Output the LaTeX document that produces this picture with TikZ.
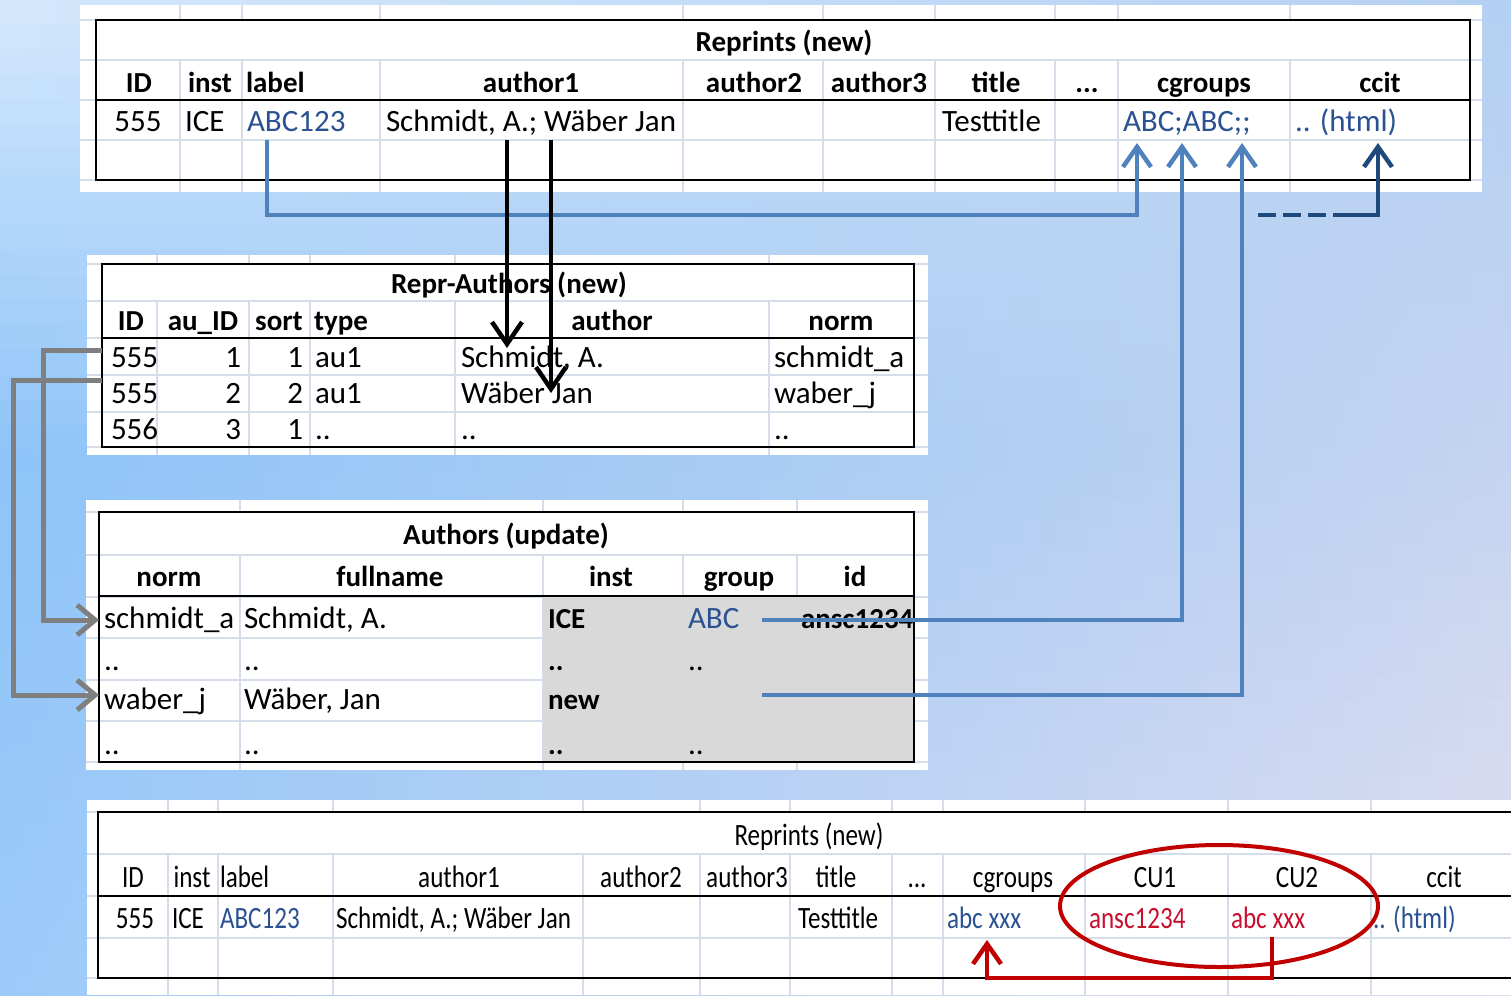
\documentclass[tikz,border=0pt]{standalone}
\usepackage{fontspec}
\setmainfont{Carlito}
\usepackage{graphicx}
\usetikzlibrary{arrows.meta}
\definecolor{TL}{HTML}{D4E8FC}
\definecolor{ML}{HTML}{8EC4F8}
\definecolor{BL}{HTML}{9CCAF8}
\definecolor{TR}{HTML}{B4D0F2}
\definecolor{MR}{HTML}{C4D4F0}
\definecolor{BR}{HTML}{E2DEF0}
\definecolor{gridc}{HTML}{D5DCEA}
\definecolor{txtblue}{HTML}{2A5191}
\definecolor{txtred}{HTML}{C8102E}
\definecolor{arrblue}{HTML}{4F81BD}
\definecolor{arrdark}{HTML}{1F497D}
\definecolor{arrgray}{HTML}{7F7F7F}
\definecolor{arrred}{HTML}{C00000}
\definecolor{cellgray}{HTML}{D9D9D9}
\newcommand{\cnd}[1]{\scalebox{0.81}[1]{#1}}
\begin{document}
\begin{tikzpicture}[x=1pt,y=-1pt,
  tx/.style={inner sep=0pt, outer sep=0pt, font=\fontsize{29}{34}\selectfont, anchor=base west},
  tc/.style={tx, anchor=base},
  te/.style={tx, anchor=base east},
  hb/.style={font=\fontsize{29}{34}\selectfont\bfseries},
  cf/.style={font=\fontsize{31}{36}\selectfont},
  blu/.style={text=txtblue},
  rtx/.style={text=txtred},
  gridline/.style={draw=gridc, line width=1.3pt},
  frame/.style={draw=black, line width=2.2pt},
  panel/.style={fill=white},
  barr/.style={draw=arrblue, line width=4.5pt, -{Straight Barb[length=20pt,width=28pt]}},
  darr/.style={draw=arrdark, line width=4.5pt, -{Straight Barb[length=20pt,width=28pt]}},
  karr/.style={draw=black, line width=4.5pt, -{Straight Barb[length=22pt,width=30pt]}},
  garr/.style={draw=arrgray, line width=5pt, -{Straight Barb[length=18pt,width=30pt]}},
  rarr/.style={draw=arrred, line width=4.5pt, -{Straight Barb[length=20pt,width=28pt]}}
]
\useasboundingbox (0,0) rectangle (1511,995);
% background
\foreach \i in {0,...,39} {
  \pgfmathtruncatemacro{\yy}{\i*25+12}
  \ifnum\yy<450
    \pgfmathtruncatemacro{\p}{\yy/4.5}
    \colorlet{cl}{ML!\p!TL}\colorlet{cr}{MR!\p!TR}
  \else
    \pgfmathtruncatemacro{\p}{(\yy-450)/5.45}
    \colorlet{cl}{BL!\p!ML}\colorlet{cr}{BR!\p!MR}
  \fi
  \shade[left color=cl, right color=cr] (0,\i*25) rectangle (1511,\i*25+26);
}

% ---------- Table 1: Reprints (new) top ----------
\fill[panel] (80,5) rectangle (1482,192);
\foreach \x in {180,242,380,683,823,935,1055,1118,1290} {
  \draw[gridline] (\x,5) -- (\x,20);
  \draw[gridline] (\x,60) -- (\x,192);
}
\foreach \y in {20,60,100,140,180} \draw[gridline] (80,\y) -- (1482,\y);
\draw[frame] (96,20) rectangle (1470,180);
\draw[frame] (96,100) -- (1470,100);
\node[tc,hb] (r1t) at (784,52) {Reprints (new)};
\node[tc,hb] (r1h1) at (139,93) {ID};
\node[tc,hb] (r1h2) at (210,93) {inst};
\node[tx,hb] (r1h3) at (246,93) {label};
\node[tc,hb] (r1h4) at (531,93) {author1};
\node[tc,hb] (r1h5) at (754,93) {author2};
\node[tc,hb] (r1h6) at (879,93) {author3};
\node[tc,hb] (r1h7) at (996,93) {title};
\node[tc,hb] (r1h8) at (1087,93) {...};
\node[tc,hb] (r1h9) at (1204,93) {cgroups};
\node[tc,hb] (r1h10) at (1380,93) {ccit};
\node[tc,cf] (r1d1) at (138,132) {555};
\node[tx,cf] (r1d2) at (185,132) {ICE};
\node[tx,cf,blu] (r1d3) at (247,132) {ABC123};
\node[tx,cf] (r1d4) at (386,132) {Schmidt, A.; Wäber Jan};
\node[tx,cf] (r1d5) at (942,132) {Testtitle};
\node[tx,cf,blu] (r1d6) at (1123,132) {ABC;ABC;;};
\node[tx,cf,blu] (r1d7) at (1295,132) {.. (html)};

% ---------- Table 2: Repr-Authors (new) ----------
\fill[panel] (87,255) rectangle (928,455);
\foreach \x in {157,249,310,455,769} {
  \draw[gridline] (\x,255) -- (\x,264);
  \draw[gridline] (\x,301) -- (\x,455);
}
\foreach \y in {264,301,338,375,412,447} \draw[gridline] (87,\y) -- (928,\y);
\draw[frame] (102,264) rectangle (914,447);
\draw[frame] (102,338) -- (914,338);
\node[tc,hb] (r2t) at (509,293) {Repr-Authors (new)};
\node[tc,hb] (r2h1) at (131,330) {ID};
\node[tc,hb] (r2h2) at (203,330) {au\_ID};
\node[tc,hb] (r2h3) at (279,330) {sort};
\node[tx,hb] (r2h4) at (314,330) {type};
\node[tc,hb] (r2h5) at (612,330) {author};
\node[tc,hb] (r2h6) at (841,330) {norm};
\node[tx,cf] (r2a1) at (111,367) {555};
\node[te,cf] (r2a2) at (241,367) {1};
\node[te,cf] (r2a3) at (303,367) {1};
\node[tx,cf] (r2a4) at (315,367) {au1};
\node[tx,cf] (r2a5) at (461,367) {Schmidt, A.};
\node[tx,cf] (r2a6) at (774,367) {schmidt\_a};
\node[tx,cf] (r2b1) at (111,403) {555};
\node[te,cf] (r2b2) at (241,403) {2};
\node[te,cf] (r2b3) at (303,403) {2};
\node[tx,cf] (r2b4) at (315,403) {au1};
\node[tx,cf] (r2b5) at (461,403) {Wäber Jan};
\node[tx,cf] (r2b6) at (774,403) {waber\_j};
\node[tx,cf] (r2c1) at (111,439) {556};
\node[te,cf] (r2c2) at (241,439) {3};
\node[te,cf] (r2c3) at (303,439) {1};
\node[tx,cf] (r2c4) at (315,439) {..};
\node[tx,cf] (r2c5) at (461,439) {..};
\node[tx,cf] (r2c6) at (774,439) {..};

% ---------- Table 3: Authors (update) ----------
\fill[panel] (86,500) rectangle (928,770);
\foreach \x in {240,543,683,797} {
  \draw[gridline] (\x,500) -- (\x,512);
  \draw[gridline] (\x,555) -- (\x,770);
}
\foreach \y in {512,555,597,638,680,721,762} \draw[gridline] (86,\y) -- (928,\y);
\fill[cellgray] (543,596) rectangle (914,762);
\draw[frame] (99,512) rectangle (914,762);
\draw[frame] (99,596) -- (914,596);
\node[tc,hb] (r3t) at (506,544) {Authors (update)};
\node[tc,hb] (r3h1) at (169,586) {norm};
\node[tc,hb] (r3h2) at (390,586) {fullname};
\node[tc,hb] (r3h3) at (611,586) {inst};
\node[tc,hb] (r3h4) at (739,586) {group};
\node[tc,hb] (r3h5) at (855,586) {id};
\node[tx,cf] (r3a1) at (104,628) {schmidt\_a};
\node[tx,cf] (r3a2) at (244,628) {Schmidt, A.};
\node[tx,hb] (r3a3) at (548,628) {ICE};
\node[tx,cf,blu] (r3a4) at (688,628) {ABC};
\begin{scope}
\clip (797,597) rectangle (913,640);
\node[tx,hb] (r3a5) at (801,628) {ansc1234};
\end{scope}
\node[tx,cf] (r3b1) at (104,670) {..};
\node[tx,cf] (r3b2) at (244,670) {..};
\node[tx,hb] (r3b3) at (548,670) {..};
\node[tx,cf] (r3b4) at (688,670) {..};
\node[tx,cf] (r3c1) at (104,709) {waber\_j};
\node[tx,cf] (r3c2) at (244,709) {Wäber, Jan};
\node[tx,hb] (r3c3) at (548,709) {new};
\node[tx,cf] (r3d1) at (104,754) {..};
\node[tx,cf] (r3d2) at (244,754) {..};
\node[tx,hb] (r3d3) at (548,754) {..};
\node[tx,cf] (r3d4) at (688,754) {..};

% ---------- Table 4: Reprints (new) bottom ----------
\fill[panel] (87,800) rectangle (1511,995);
\foreach \x in {168,218,333,583,700,790,892,943,1085,1228,1371} {
  \draw[gridline] (\x,800) -- (\x,812);
  \draw[gridline] (\x,854) -- (\x,995);
}
\foreach \y in {812,854,896,938,978} \draw[gridline] (87,\y) -- (1511,\y);
\draw[frame] (1520,812) -- (98,812) -- (98,978) -- (1520,978);
\draw[frame] (98,896) -- (1520,896);
\node[tc,cf] (r4t) at (809,845) {\cnd{Reprints (new)}};
\node[tc,cf] (r4h1) at (133,887) {\cnd{ID}};
\node[tc,cf] (r4h2) at (192,887) {\cnd{inst}};
\node[tx,cf] (r4h3) at (220,887) {\cnd{label}};
\node[tc,cf] (r4h4) at (459,887) {\cnd{author1}};
\node[tc,cf] (r4h5) at (641,887) {\cnd{author2}};
\node[tc,cf] (r4h6) at (747,887) {\cnd{author3}};
\node[tc,cf] (r4h7) at (836,887) {\cnd{title}};
\node[tc,cf] (r4h8) at (917,887) {\cnd{...}};
\node[tc,cf] (r4h9) at (1013,887) {\cnd{cgroups}};
\node[tc,cf] (r4h10) at (1155,887) {\cnd{CU1}};
\node[tc,cf] (r4h11) at (1297,887) {\cnd{CU2}};
\node[tc,cf] (r4h12) at (1444,887) {\cnd{ccit}};
\node[tc,cf] (r4d1) at (135,928) {\cnd{555}};
\node[tx,cf] (r4d2) at (172,928) {\cnd{ICE}};
\node[tx,cf,blu] (r4d3) at (220,928) {\cnd{ABC123}};
\node[tx,cf] (r4d4) at (336,928) {\cnd{Schmidt, A.; Wäber Jan}};
\node[tx,cf] (r4d5) at (798,928) {\cnd{Testtitle}};
\node[tx,cf,blu] (r4d6) at (947,928) {\cnd{abc xxx}};
\node[tx,cf,rtx] (r4d7) at (1089,928) {\cnd{ansc1234}};
\node[tx,cf,rtx] (r4d8) at (1231,928) {\cnd{abc xxx}};
\node[tx,cf,blu] (r4d9) at (1373,928) {\cnd{.. (html)}};

% ---------- connectors ----------
\coordinate (lblS) at (267,140);
\coordinate (cgA) at (1137,143);
\coordinate (cgB) at (1182,143);
\coordinate (cgC) at (1242,143);
\coordinate (ccT) at (1378,143);
\coordinate (grpS) at (762,620);
\coordinate (newS) at (762,695);
\coordinate (dashS) at (1258,215);
\coordinate (dashE) at (1335,215);
\coordinate (au1S) at (507,140);
\coordinate (au1E) at (507,348);
\coordinate (au2S) at (551,140);
\coordinate (au2E) at (551,393);
\coordinate (ra1) at (102,350);
\coordinate (ra2) at (102,380);
\coordinate (ta1) at (99,620);
\coordinate (ta2) at (99,695);
\coordinate (cu2S) at (1272,937);
\coordinate (cgT) at (987,940);

\draw[barr] (lblS) |- (1137,215) -- (cgA);
\draw[barr] (grpS) -| (cgB);
\draw[barr] (newS) -| (cgC);
\draw[draw=arrdark, line width=4.5pt, dash pattern=on 18pt off 7pt] (dashS) -- (dashE);
\draw[darr] (dashE) -| (ccT);
\draw[karr] (au1S) -- (au1E);
\draw[karr] (au2S) -- (au2E);
\draw[garr] (ra1) -- (43,350) |- (ta1);
\draw[garr] (ra2) -- (13,380) |- (ta2);
\draw[draw=arrred, line width=4pt] (1219,906) ellipse [x radius=159, y radius=61];
\draw[rarr] (cu2S) -- (1272,978) -| (cgT);
\end{tikzpicture}
\end{document}
